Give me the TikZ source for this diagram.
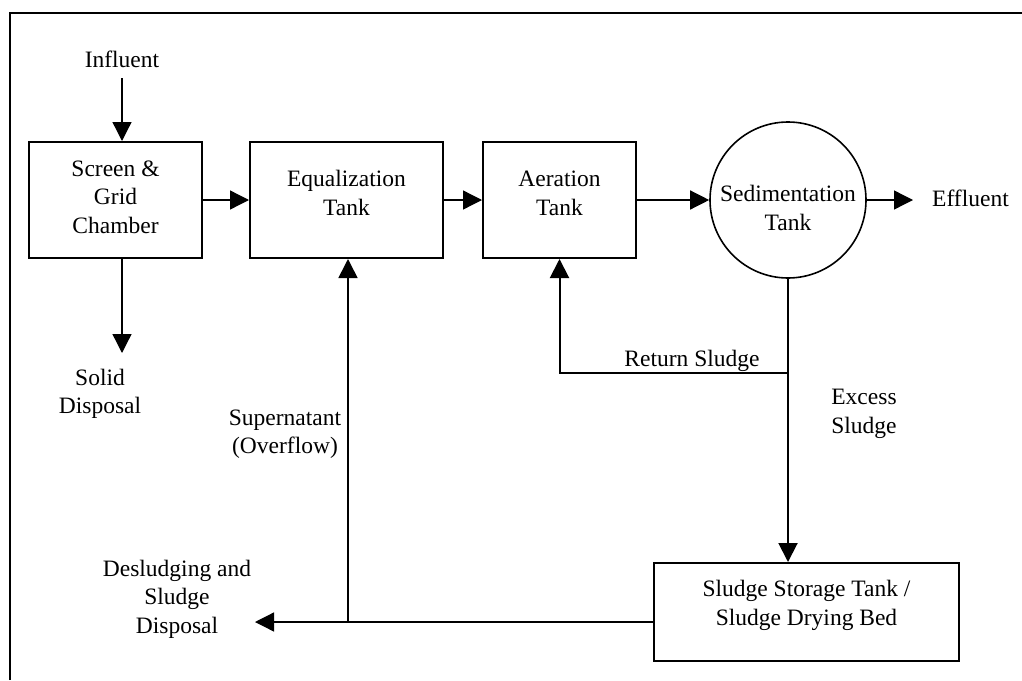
\documentclass[tikz,border=0pt]{standalone}
\usepackage{fontspec}
\setmainfont{Liberation Serif}
\usetikzlibrary{arrows.meta}
\begin{document}
\begin{tikzpicture}[x=1pt,y=-1pt,
  font=\fontsize{23.5}{28.5}\selectfont,
  box/.style={draw,line width=2pt,align=center,inner sep=0pt},
  lbl/.style={align=center,inner sep=0pt},
  conn/.style={line width=1.3pt},
  arr/.style={line width=1.3pt,-{Triangle[length=19pt,width=19pt]}}]
\useasboundingbox (0,0) rectangle (1022,680);
% frame
\draw[line width=2pt] (10,680) -- (10,13) -- (1022,13);
% nodes
\node[box,minimum width=173pt,minimum height=116pt,text depth=6pt] (screen) at (115.5,200) {Screen \&\\Grid\\Chamber};
\node[box,minimum width=193pt,minimum height=116pt,text depth=14pt] (eq) at (346.5,200) {Equalization\\Tank};
\node[box,minimum width=153pt,minimum height=116pt,text depth=14pt] (aer) at (559.5,200) {Aeration\\Tank};
\node[draw,circle,line width=1.6pt,minimum size=156pt,inner sep=0pt] (sed) at (788,200) {};
\node[lbl] (sedtext) at (788,208) {Sedimentation\\Tank};
\node[box,minimum width=305pt,minimum height=98pt,text depth=18pt] (sludge) at (806.5,612) {Sludge Storage Tank /\\Sludge Drying Bed};
\node[lbl] (inf) at (122,59) {Influent};
\node[lbl,anchor=west] (eff) at (932,198) {Effluent};
\node[lbl] (sol) at (100,394) {Solid\\Disposal};
\node[lbl] (sup) at (285,434) {Supernatant\\(Overflow)};
\node[lbl] (ret) at (692,361) {Return Sludge};
\node[lbl] (exc) at (864,414) {Excess\\Sludge};
\node[lbl] (des) at (177,599) {Desludging and\\Sludge\\Disposal};
% junctions and free ends
\coordinate (j1) at (348,622);
\coordinate (j2) at (788,373);
\coordinate (soltip) at (122,353);
\coordinate (destip) at (255,622);
\coordinate (efftip) at (913,200);
% connectors
\draw[arr] (inf.south |- 0,78) -- (inf.south |- screen.north);
\draw[arr] (screen.east) -- (eq.west);
\draw[arr] (eq.east) -- (aer.west);
\draw[arr] (aer.east) -- (sed.west);
\draw[arr] (sed.east) -- (efftip);
\draw[arr] (screen.south -| soltip) -- (soltip);
\draw[conn] (sed.south) -- (j2);
\draw[arr,line width=2pt] (j2) -- (j2 |- sludge.north);
\draw[arr,line width=2pt] (j2) -- (j2 -| aer.south) -- (aer.south);
\draw[conn] (sludge.west |- j1) -- (j1);
\draw[arr] (j1) -- (destip);
\draw[arr,line width=1.6pt] (j1) -- (j1 |- eq.south);
\end{tikzpicture}
\end{document}
